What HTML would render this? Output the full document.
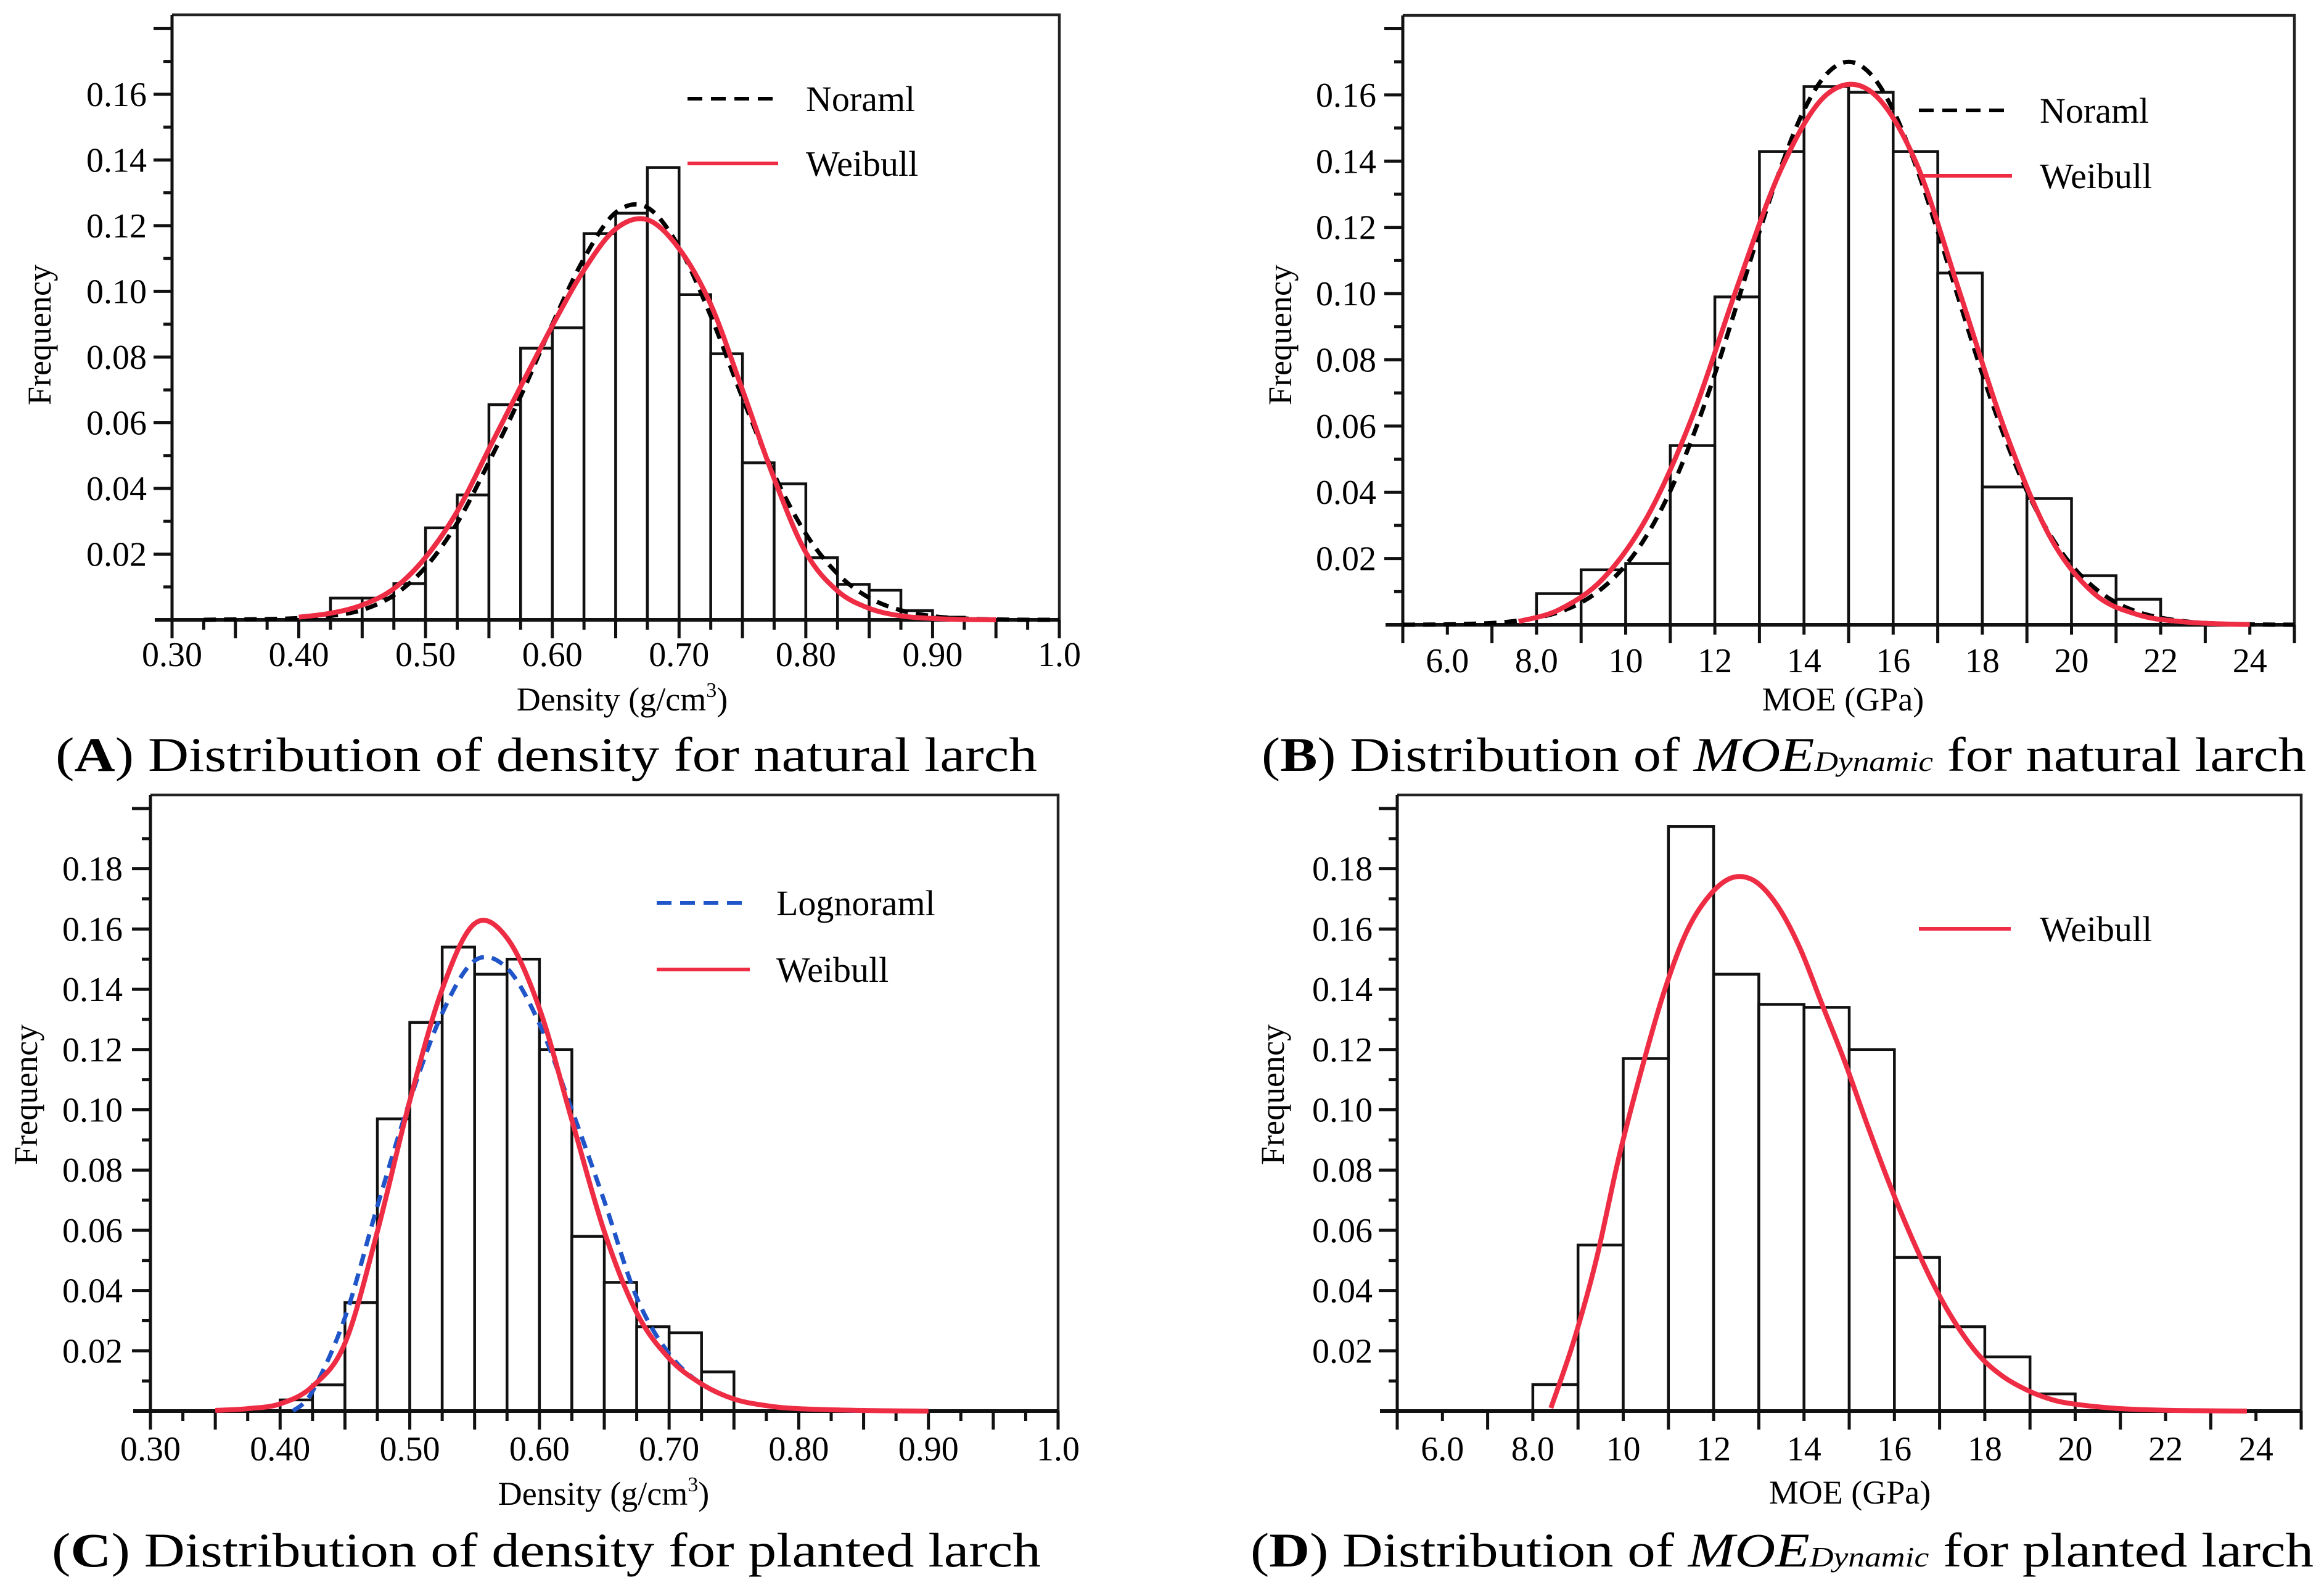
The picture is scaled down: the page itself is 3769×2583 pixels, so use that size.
<!DOCTYPE html>
<html><head><meta charset="utf-8"><title>Larch distributions</title>
<style>
html,body{margin:0;padding:0;background:#fff;}
svg{display:block;}
svg text{font-family:"Liberation Serif","Times New Roman",serif;fill:#000;}
</style></head>
<body>
<svg id="fig" xmlns="http://www.w3.org/2000/svg" width="3769" height="2583" viewBox="0 0 3769 2583" font-family="Liberation Serif, Times New Roman, serif">
<rect x="0" y="0" width="3769" height="2583" fill="#fff"/>
</svg>
<script>
// ---------- Panel A data (density, natural larch) ----------
const aBinStarts = [0.425,0.45,0.475,0.50,0.525,0.55,0.575,0.60,0.625,0.65,0.675,0.70,0.725,0.75,0.775,0.80,0.825,0.85,0.875,0.90];
const aFreq = [0.0066,0.0066,0.0110,0.0280,0.0380,0.0655,0.0827,0.0889,0.1176,0.1238,0.1377,0.0990,0.0810,0.0478,0.0414,0.0189,0.0108,0.0090,0.0028,0.0008];
const aNormX = [0.325,0.35,0.375,0.40,0.425,0.45,0.475,0.50,0.525,0.55,0.575,0.60,0.625,0.65,0.675,0.70,0.725,0.75,0.775,0.80,0.825,0.85,0.875,0.90,0.925,0.95,0.975,1.0];
const aNormY = [0.0000,0.0001,0.0002,0.0005,0.0012,0.0030,0.0075,0.0160,0.0295,0.0480,0.0680,0.0900,0.1100,0.1240,0.1255,0.1135,0.0925,0.0676,0.0443,0.0262,0.0140,0.0067,0.0029,0.0011,0.0004,0.0001,0.0000,0.0000];
const aWeibX = [0.40,0.425,0.45,0.475,0.50,0.525,0.55,0.575,0.60,0.625,0.65,0.675,0.70,0.725,0.75,0.775,0.80,0.825,0.85,0.875,0.90,0.925,0.95];
const aWeibY = [0.0008,0.0020,0.0045,0.0095,0.0190,0.0330,0.0520,0.0710,0.0895,0.1065,0.1190,0.1218,0.1130,0.0960,0.0700,0.0430,0.0205,0.0088,0.0035,0.0012,0.0004,0.0001,0.0000];

// ---------- Panel B data (MOE, natural larch) ----------
const bBinStarts = [8,9,10,11,12,13,14,15,16,17,18,19,20,21];
const bFreq = [0.0094,0.0166,0.0185,0.0541,0.0990,0.1429,0.1625,0.1608,0.1429,0.1062,0.0416,0.0381,0.0148,0.0077];
const bNormX = [5,6,7,7.5,8,8.5,9,9.5,10,10.5,11,11.5,12,12.5,13,13.5,14,14.5,15,15.5,16,16.5,17,17.5,18,18.5,19,19.5,20,20.5,21,21.5,22,22.5,23,24,25];
const bNormY = [0.0000,0.0001,0.0005,0.0011,0.0021,0.0038,0.0067,0.0113,0.0180,0.0276,0.0404,0.0566,0.0757,0.0970,0.1187,0.1389,0.1554,0.1662,0.1700,0.1662,0.1554,0.1389,0.1187,0.0970,0.0757,0.0566,0.0404,0.0276,0.0180,0.0113,0.0067,0.0038,0.0021,0.0011,0.0005,0.0001,0.0000];
const bWeibX = [7.6,8.5,9.5,10.5,11.5,12.5,13.5,14.5,15.5,16.5,17.5,18.5,19.5,20.5,21.5,22.5,23.5,24];
const bWeibY = [0.0010,0.0045,0.0140,0.0330,0.0630,0.1020,0.1380,0.1600,0.1610,0.1400,0.1000,0.0590,0.0270,0.0095,0.0030,0.0009,0.0002,0.0001];

// ---------- Panel C data (density, planted larch) ----------
const cBinStarts = [0.40,0.425,0.45,0.475,0.50,0.525,0.55,0.575,0.60,0.625,0.65,0.675,0.70,0.725];
const cFreq = [0.0037,0.0087,0.0360,0.0970,0.1290,0.1540,0.1450,0.1500,0.1200,0.0580,0.0427,0.0280,0.0260,0.0130];
const cLogX = [0.41,0.425,0.45,0.475,0.50,0.525,0.55,0.575,0.60,0.625,0.65,0.675,0.70,0.725,0.75,0.775,0.80,0.85];
const cLogY = [0.0000,0.0066,0.0310,0.0680,0.1030,0.1320,0.1495,0.1470,0.1285,0.1000,0.0697,0.0377,0.0190,0.0090,0.0040,0.0018,0.0008,0.0000];
const cWeibX = [0.35,0.375,0.40,0.425,0.45,0.475,0.50,0.525,0.55,0.575,0.60,0.625,0.65,0.675,0.70,0.725,0.75,0.775,0.80,0.85,0.90];
const cWeibY = [0.0002,0.0008,0.0024,0.0082,0.0225,0.0596,0.1030,0.1400,0.1618,0.1570,0.1336,0.0966,0.0596,0.0326,0.0175,0.0090,0.0040,0.0018,0.0008,0.0002,0.0000];

// ---------- Panel D data (MOE, planted larch) ----------
const dBinStarts = [8,9,10,11,12,13,14,15,16,17,18,19];
const dFreq = [0.0088,0.0551,0.1170,0.1940,0.1450,0.1350,0.1340,0.1200,0.0510,0.0280,0.0180,0.0057];
const dWeibX = [8.4,8.9,9.4,9.9,10.4,10.9,11.4,11.9,12.4,12.9,13.4,13.9,14.4,14.9,15.4,15.9,16.4,16.9,17.4,17.9,18.4,18.9,19.4,19.9,20.9,21.9,22.9,23.8];
const dWeibY = [0.0010,0.0230,0.0500,0.0840,0.1130,0.1390,0.1590,0.1710,0.1770,0.1760,0.1680,0.1540,0.1350,0.1160,0.0950,0.0750,0.0570,0.0410,0.0280,0.0180,0.0115,0.0072,0.0042,0.0025,0.0009,0.0003,0.0001,0.0000];

// ---------- Tick labels ----------
const densTickVals = [0.30,0.40,0.50,0.60,0.70,0.80,0.90,1.0];
const densTickLabels = ["0.30","0.40","0.50","0.60","0.70","0.80","0.90","1.0"];
const moeTickVals = [6,8,10,12,14,16,18,20,22,24];
const moeTickLabels = ["6.0","8.0","10","12","14","16","18","20","22","24"];
const yTickValsAB = [0.02,0.04,0.06,0.08,0.10,0.12,0.14,0.16];
const yTickLabelsAB = ["0.02","0.04","0.06","0.08","0.10","0.12","0.14","0.16"];
const yTickValsCD = [0.02,0.04,0.06,0.08,0.10,0.12,0.14,0.16,0.18];
const yTickLabelsCD = ["0.02","0.04","0.06","0.08","0.10","0.12","0.14","0.16","0.18"];

const NS = "http://www.w3.org/2000/svg";
const svg = document.getElementById('fig');
const FF = 'Liberation Serif, Times New Roman, serif';
function mk(tag, attrs, parent){
  const e = document.createElementNS(NS, tag);
  for (const k in attrs) e.setAttribute(k, attrs[k]);
  if (tag === 'text') e.setAttribute('font-family', FF);
  (parent||svg).appendChild(e);
  return e;
}
function smoothPath(pts){
  let d = 'M' + pts[0][0].toFixed(1) + ',' + pts[0][1].toFixed(1);
  for (let i=0;i<pts.length-1;i++){
    const p0 = pts[i-1]||pts[i], p1=pts[i], p2=pts[i+1], p3=pts[i+2]||pts[i+1];
    const c1x = p1[0]+(p2[0]-p0[0])/6, c1y = p1[1]+(p2[1]-p0[1])/6;
    const c2x = p2[0]-(p3[0]-p1[0])/6, c2y = p2[1]-(p3[1]-p1[1])/6;
    d += ' C'+c1x.toFixed(1)+','+c1y.toFixed(1)+' '+c2x.toFixed(1)+','+c2y.toFixed(1)+' '+p2[0].toFixed(1)+','+p2[1].toFixed(1);
  }
  return d;
}

const panels = [
  {id:'a', L:279, R:1718, T:24, B:1005, xmin:0.3, xmax:1.0, ymax:0.1842, binW:0.025,
   starts:aBinStarts, freq:aFreq, minorX:0.025, majorX:0.05, minorY:0.01,
   xtv:densTickVals, xtl:densTickLabels, ytv:yTickValsAB, ytl:yTickLabelsAB, ylabR:238, xlabY:1080,
   xTitle:'dens', xTitleX:1009, xTitleY:1152, fqX:64, fqY:543,
   curves:[{x:aNormX,y:aNormY,color:'#000',dash:true,name:'normal-curve'},{x:aWeibX,y:aWeibY,color:'#ee2c44',dash:false,name:'weibull-curve'}],
   legend:[{label:'Noraml',color:'#000',dash:true,x1:1115,x2:1262,y:160,tx:1307},{label:'Weibull',color:'#ee2c44',dash:false,x1:1115,x2:1262,y:265,tx:1307}],
   caption:['A',' Distribution of density for natural larch'], capX:90, capW:1592, capY:1250},
  {id:'b', L:2275, R:3721, T:25, B:1013, xmin:5, xmax:25, ymax:0.1840, binW:1,
   starts:bBinStarts, freq:bFreq, minorX:1, majorX:2, minorY:0.01,
   xtv:moeTickVals, xtl:moeTickLabels, ytv:yTickValsAB, ytl:yTickLabelsAB, ylabR:2232, xlabY:1090,
   xTitle:'moe', xTitleX:2989, xTitleY:1152, fqX:2076, fqY:543,
   curves:[{x:bNormX,y:bNormY,color:'#000',dash:true,name:'normal-curve'},{x:bWeibX,y:bWeibY,color:'#ee2c44',dash:false,name:'weibull-curve'}],
   legend:[{label:'Noraml',color:'#000',dash:true,x1:3112,x2:3263,y:179,tx:3308},{label:'Weibull',color:'#ee2c44',dash:false,x1:3112,x2:3263,y:285,tx:3308}],
   caption:['B',' Distribution of ','MOE','Dynamic',' for natural larch'], capX:2046, capW:1694, capY:1250},
  {id:'c', L:244, R:1716, T:1289, B:2288, xmin:0.3, xmax:1.0, ymax:0.2045, binW:0.025,
   starts:cBinStarts, freq:cFreq, minorX:0.025, majorX:0.05, minorY:0.01,
   xtv:densTickVals, xtl:densTickLabels, ytv:yTickValsCD, ytl:yTickLabelsCD, ylabR:199, xlabY:2368,
   xTitle:'dens', xTitleX:979, xTitleY:2440, fqX:42, fqY:1775,
   curves:[{x:cLogX,y:cLogY,color:'#1f55c8',dash:true,name:'lognormal-curve'},{x:cWeibX,y:cWeibY,color:'#ee2c44',dash:false,name:'weibull-curve'}],
   legend:[{label:'Lognoraml',color:'#1f55c8',dash:true,x1:1065,x2:1216,y:1464,tx:1259},{label:'Weibull',color:'#ee2c44',dash:false,x1:1065,x2:1216,y:1572,tx:1259}],
   caption:['C',' Distribution of density for planted larch'], capX:84, capW:1604, capY:2540},
  {id:'d', L:2266, R:3732, T:1289, B:2288, xmin:5, xmax:25, ymax:0.2045, binW:1,
   starts:dBinStarts, freq:dFreq, minorX:1, majorX:2, minorY:0.01,
   xtv:moeTickVals, xtl:moeTickLabels, ytv:yTickValsCD, ytl:yTickLabelsCD, ylabR:2226, xlabY:2368,
   xTitle:'moe', xTitleX:3000, xTitleY:2438, fqX:2064, fqY:1775,
   curves:[{x:dWeibX,y:dWeibY,color:'#ee2c44',dash:false,name:'weibull-curve'}],
   legend:[{label:'Weibull',color:'#ee2c44',dash:false,x1:3112,x2:3261,y:1506,tx:3308}],
   caption:['D',' Distribution of ','MOE','Dynamic',' for planted larch'], capX:2028, capW:1724, capY:2540}
];

panels.forEach(p=>{
  const g = mk('g', {});
  
  
  const sx = v => p.L + (v - p.xmin)/(p.xmax - p.xmin)*(p.R - p.L);
  const sy = v => p.B - v/p.ymax*(p.B - p.T);

  const bars = mk('g', {}, g);
  
  
  p.starts.forEach((s,i)=>{
    const x0 = sx(s), x1 = sx(s + p.binW), y = sy(p.freq[i]);
    const r = mk('rect', {x:x0, y:y, width:x1-x0, height:p.B-y, fill:'#fff', stroke:'#111', 'stroke-width':4.5}, bars);
    
    
  });

  const fr = mk('path', {d:'M'+p.L+','+p.T+' H'+p.R+' V'+p.B, fill:'none', stroke:'#222', 'stroke-width':4.5}, g);
  
  

  const ya = mk('g', {}, g);
  
  
  mk('line', {x1:p.L, y1:p.T, x2:p.L, y2:p.B+30, stroke:'#111', 'stroke-width':5}, ya);
  for (let k=1; k*p.minorY <= p.ymax+1e-9; k++){
    const v = k*p.minorY;
    const major = (k % 2 === 0);
    const y = sy(v);
    mk('line', {x1:p.L-(major?30:14), y1:y, x2:p.L, y2:y, stroke:'#111', 'stroke-width':5}, ya);
  }
  p.ytv.forEach((v,i)=>{
    const t = mk('text', {x:p.ylabR, y:sy(v)+19, 'text-anchor':'end', 'font-size':56}, ya);
    t.textContent = p.ytl[i];
    
    
  });

  const xa = mk('g', {}, g);
  
  
  mk('line', {x1:p.L-28, y1:p.B, x2:p.R, y2:p.B, stroke:'#111', 'stroke-width':6}, xa);
  const nT = Math.round((p.xmax-p.xmin)/p.minorX);
  for (let k=0; k<=nT; k++){
    const v = p.xmin + k*p.minorX;
    const r = (v - p.xmin)/p.majorX;
    const major = Math.abs(r - Math.round(r)) < 1e-6;
    mk('line', {x1:sx(v), y1:p.B, x2:sx(v), y2:p.B+(major?30:16), stroke:'#111', 'stroke-width':5}, xa);
  }
  p.xtv.forEach((v,i)=>{
    const t = mk('text', {x:sx(v), y:p.xlabY, 'text-anchor':'middle', 'font-size':56}, xa);
    t.textContent = p.xtl[i];
    
    
  });

  const xt = mk('text', {x:p.xTitleX, y:p.xTitleY, 'text-anchor':'middle', 'font-size':54}, g);
  
  
  if (p.xTitle === 'dens'){
    xt.appendChild(document.createTextNode('Density  (g/cm'));
    const sup = mk('tspan', {'font-size':34, dy:-22}, xt);
    sup.textContent = '3';
    const cl = mk('tspan', {dy:22}, xt);
    cl.textContent = ')';
  } else {
    xt.textContent = 'MOE  (GPa)';
  }
  const ytit = mk('text', {x:0, y:0, 'text-anchor':'middle', 'font-size':54, transform:'translate('+(p.fqX+18)+','+p.fqY+') rotate(-90)'}, g);
  ytit.textContent = 'Frequency';
  
  

  p.curves.forEach(c=>{
    const pts = c.x.map((xv,i)=>[sx(xv), sy(c.y[i])]);
    const path = mk('path', {d:smoothPath(pts), fill:'none', stroke:c.color, 'stroke-width':c.dash?7:8, 'stroke-linecap':'butt', 'stroke-linejoin':'round'}, g);
    if (c.dash) path.setAttribute('stroke-dasharray', '20 13');
    
    
  });

  const lg = mk('g', {}, g);
  
  
  p.legend.forEach(l=>{
    const ln = mk('line', {x1:l.x1, y1:l.y, x2:l.x2, y2:l.y, stroke:l.color, 'stroke-width':6}, lg);
    if (l.dash) ln.setAttribute('stroke-dasharray', '24 14');
    
    
    const t = mk('text', {x:l.tx, y:l.y+20, 'font-size':58}, lg);
    t.textContent = l.label;
    
    
  });

  const cap = mk('text', {x:p.capX, y:p.capY, 'font-size':78, textLength:p.capW, lengthAdjust:'spacingAndGlyphs'}, svg);
  
  
  cap.appendChild(document.createTextNode('('));
  const bold = mk('tspan', {'font-weight':'bold'}, cap);
  bold.textContent = p.caption[0];
  cap.appendChild(document.createTextNode(')' + p.caption[1]));
  if (p.caption.length > 2){
    const it = mk('tspan', {'font-style':'italic'}, cap);
    it.textContent = p.caption[2];
    const sub = mk('tspan', {'font-style':'italic', 'font-size':46}, cap);
    sub.textContent = p.caption[3];
    const rest = mk('tspan', {'font-size':78}, cap);
    rest.textContent = p.caption[4];
  }
});
</script>
</body></html>
